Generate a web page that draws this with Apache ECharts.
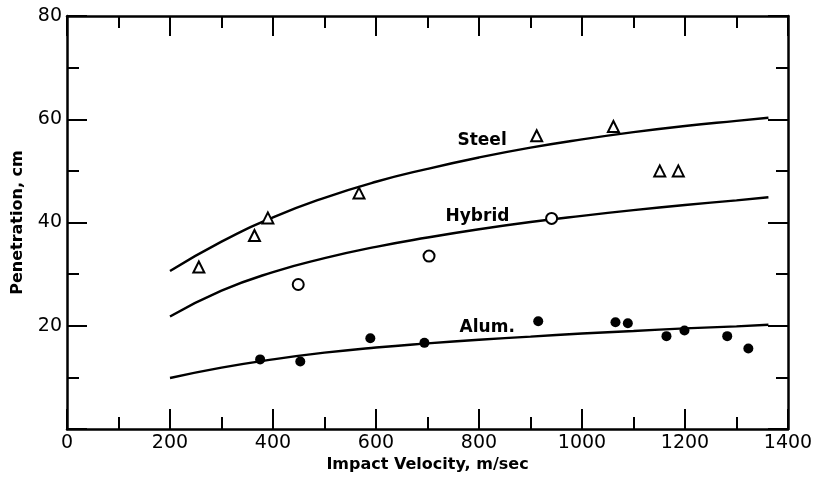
<!DOCTYPE html>
<html>
<head>
<meta charset="utf-8">
<script src="https://cdn.jsdelivr.net/npm/echarts@6/dist/echarts.min.js"></script>
<style>
  html, body { margin: 0; padding: 0; background: #fff; }
  #chart { width: 820px; height: 478px; }
</style>
</head>
<body>
<div id="chart"></div>
<script>
// Measured points (velocity m/sec, penetration cm)
const steelPoints  = [[256, 31.4], [364, 37.5], [390, 40.9], [567, 45.7], [912, 56.8], [1061, 58.6], [1151, 50.0], [1187, 50.0]];
const hybridPoints = [[449, 28.0], [703, 33.5], [941, 40.8]];
const alumPoints   = [[375, 13.5], [453, 13.1], [589, 17.6], [694, 16.7], [915, 20.9], [1065, 20.7], [1089, 20.5], [1164, 18.0], [1199, 19.1], [1282, 18.0], [1323, 15.6]];

// Fitted curves
const curveX      = [200, 300, 400, 500, 600, 700, 800, 900, 1000, 1100, 1200, 1300, 1362];
const steelCurve  = [30.6, 36.3, 41.0, 44.8, 47.9, 50.4, 52.6, 54.5, 56.1, 57.5, 58.7, 59.7, 60.3];
const hybridCurve = [21.8, 26.8, 30.4, 33.1, 35.3, 37.1, 38.7, 40.1, 41.3, 42.4, 43.4, 44.3, 44.9];
const alumCurve   = [9.9, 11.9, 13.5, 14.8, 15.8, 16.6, 17.3, 17.9, 18.5, 19.0, 19.5, 19.9, 20.2];

// Curve labels
const curveLabelText = ['Steel', 'Hybrid', 'Alum.'];
const curveLabelPos  = [[806, 55.9], [797, 41.1], [816, 19.7]];

const xTicks = { min: 0, max: 1400, interval: 200 };
const yTicks = { min: 0, max: 80, interval: 20 };

const FONT = 'DejaVu Sans';

function zip(xs, ys) { return xs.map((x, i) => [x, ys[i]]); }

function tickCommon() {
  return {
    axisLine: { show: true, onZero: false, lineStyle: { color: '#000', width: 2.5 } },
    axisTick: { show: true, inside: true, length: 20, lineStyle: { color: '#000', width: 2 } },
    minorTick: { show: true, splitNumber: 2, length: 12, lineStyle: { color: '#000', width: 2 } },
    splitLine: { show: false },
    minorSplitLine: { show: false }
  };
}

const chart = echarts.init(document.getElementById('chart'), null, { renderer: 'canvas' });

const lineStyle = { color: '#000', width: 2.4 };

chart.setOption({
  animation: false,
  backgroundColor: '#fff',
  grid: { left: 67, right: 32, top: 16, bottom: 48 },
  xAxis: [
    Object.assign({
      type: 'value', position: 'bottom',
      min: xTicks.min, max: xTicks.max, interval: xTicks.interval,
      name: 'Impact Velocity, m/sec', nameLocation: 'middle', nameGap: 25,
      nameTextStyle: { fontFamily: FONT, fontSize: 16, fontWeight: 'bold', color: '#000' },
      axisLabel: { fontFamily: FONT, fontSize: 19, color: '#000', margin: 4, formatter: v => String(v) }
    }, tickCommon()),
    Object.assign({
      type: 'value', position: 'top',
      min: xTicks.min, max: xTicks.max, interval: xTicks.interval,
      axisLabel: { show: false }
    }, tickCommon())
  ],
  yAxis: [
    Object.assign({
      type: 'value', position: 'left',
      min: yTicks.min, max: yTicks.max, interval: yTicks.interval,
      name: 'Penetration, cm', nameLocation: 'middle', nameGap: 41, nameRotate: 90,
      nameTextStyle: { fontFamily: FONT, fontSize: 16, fontWeight: 'bold', color: '#000' },
      axisLabel: { fontFamily: FONT, fontSize: 19, color: '#000', margin: 5,
        formatter: v => v === 0 ? '' : String(v) }
    }, tickCommon()),
    Object.assign({
      type: 'value', position: 'right',
      min: yTicks.min, max: yTicks.max, interval: yTicks.interval,
      axisLabel: { show: false }
    }, tickCommon())
  ],
  series: [
    { type: 'line', data: zip(curveX, steelCurve), smooth: 0.5, showSymbol: false, lineStyle: lineStyle, z: 2 },
    { type: 'line', data: zip(curveX, hybridCurve), smooth: 0.5, showSymbol: false, lineStyle: lineStyle, z: 2 },
    { type: 'line', data: zip(curveX, alumCurve), smooth: 0.5, showSymbol: false, lineStyle: lineStyle, z: 2 },
    { type: 'scatter', data: steelPoints, symbol: 'triangle', symbolSize: 11,
      itemStyle: { color: '#fff', borderColor: '#000', borderWidth: 2, opacity: 1 }, z: 3 },
    { type: 'scatter', data: hybridPoints, symbol: 'circle', symbolSize: 11,
      itemStyle: { color: '#fff', borderColor: '#000', borderWidth: 2, opacity: 1 }, z: 3 },
    { type: 'scatter', data: alumPoints, symbol: 'circle', symbolSize: 10,
      itemStyle: { color: '#000', opacity: 1 }, z: 3 },
    { type: 'scatter', symbolSize: 0, z: 4,
      itemStyle: { color: '#000', opacity: 1 },
      data: curveLabelPos.map((p, i) => ({ value: p, name: curveLabelText[i] })),
      label: { show: true, position: 'inside', formatter: p => p.name,
        fontFamily: FONT, fontSize: 17, fontWeight: 'bold', color: '#000', opacity: 1 } }
  ]
});
</script>
</body>
</html>
